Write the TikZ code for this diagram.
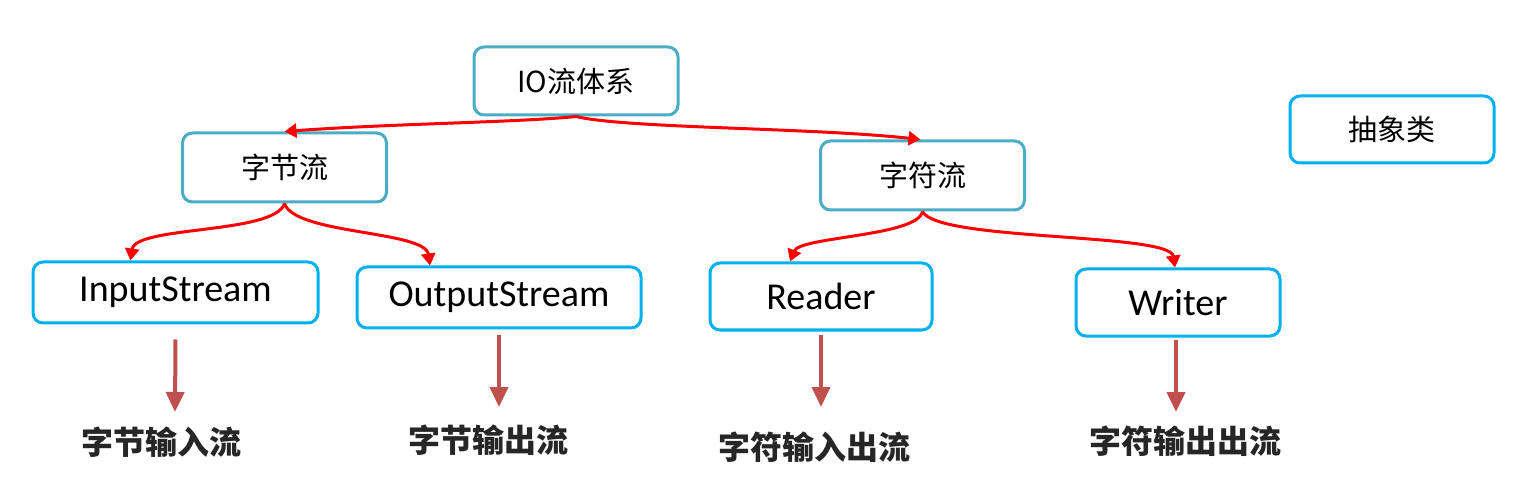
\documentclass[tikz,border=0pt]{standalone}
\usepackage{fontspec}
\setmainfont{Carlito}
\newfontfamily\cjk{Noto Sans CJK SC}
\usetikzlibrary{arrows.meta}

\definecolor{steelline}{HTML}{4BACC6}
\definecolor{cyanline}{HTML}{00B0F0}
\definecolor{brickred}{HTML}{C0504D}
\definecolor{darktext}{HTML}{262626}

\begin{document}
\begin{tikzpicture}[
      x=0.5pt, y=-0.5pt,
      box/.style={draw, rounded corners=5pt, line width=1.5pt, fill=white,
        minimum width=102pt, minimum height=34pt, inner sep=0pt},
      steelbox/.style={box, draw=steelline, font=\cjk\fontsize{14.5}{16}\selectfont},
      cyanbox/.style={box, draw=cyanline, font=\fontsize{19}{22}\selectfont},
      note/.style={inner sep=0pt, text=darktext, font=\cjk\bfseries\fontsize{16}{18}\selectfont},
      redarrow/.style={draw=red, line width=1.5pt, -{Triangle[length=6pt, width=7pt]}},
      downarrow/.style={draw=brickred, line width=2pt, -{Triangle[length=10pt, width=9pt]}}
    ]
    \useasboundingbox (0,0) rectangle (1526,497);

    % upper levels
    \node[steelbox] (io) at (576,81) {IO流体系};
    \node[steelbox, minimum height=34.5pt] (byte) at (284.5,167.5) {字节流};
    \node[steelbox, minimum height=34.5pt] (char) at (922.5,175.5) {字符流};
    \node[box, draw=cyanline, font=\cjk\fontsize{14.5}{16}\selectfont, minimum height=33.5pt] (abs) at (1392,129.5) {抽象类};

    % abstract classes
    \node[cyanbox, minimum width=142.5pt, minimum height=30.5pt] (in) at (175.5,292.5) {InputStream};
    \node[cyanbox, minimum width=142pt, minimum height=30.5pt] (out) at (499,297.5) {OutputStream};
    \node[cyanbox, minimum width=111pt, minimum height=33.5pt] (reader) at (821,296.5) {Reader};
    \node[cyanbox, minimum width=102pt, minimum height=33.5pt] (writer) at (1178,302.5) {Writer};

    % descriptions
    \node[note] (n1) at (161,442) {字节输入流};
    \node[note] (n2) at (488,440) {字节输出流};
    \node[note] (n3) at (814,447) {字符输入出流};
    \node[note] (n4) at (1185,441) {字符输出出流};

    % hierarchy
    \draw[redarrow] (io.south) .. controls +(-60,6) and +(110,-8) .. (byte.north);
    \draw[redarrow] (io.south) .. controls +(50,12) and +(-110,-12) .. ([xshift=-1pt]char.north);
    \draw[redarrow] (byte.south) .. controls +(-10,31) and +(5,-35) .. ([xshift=-22.5pt]in.north);
    \draw[redarrow] (byte.south) .. controls +(10,31) and +(-5,-35) .. ([xshift=-34.5pt]out.north);
    \draw[redarrow] (char.south) .. controls +(-5,25) and +(10,-25) .. ([xshift=-15.5pt]reader.north);
    \draw[redarrow] (char.south) .. controls +(15,30) and +(-5,-35) .. ([xshift=-1.5pt]writer.north);

    % meaning
    \coordinate (t1) at (175,412);
    \coordinate (t2) at (499,407);
    \coordinate (t3) at (821,407);
    \coordinate (t4) at (1176,412);
    \draw[downarrow] ([yshift=-7.5pt]in.south) -- (t1);
    \draw[downarrow] ([yshift=-2.5pt]out.south) -- (t2);
    \draw[downarrow] ([yshift=-1.5pt]reader.south) -- (t3);
    \draw[downarrow] ([xshift=-1pt,yshift=-1pt]writer.south) -- (t4);
  \end{tikzpicture}
\end{document}
